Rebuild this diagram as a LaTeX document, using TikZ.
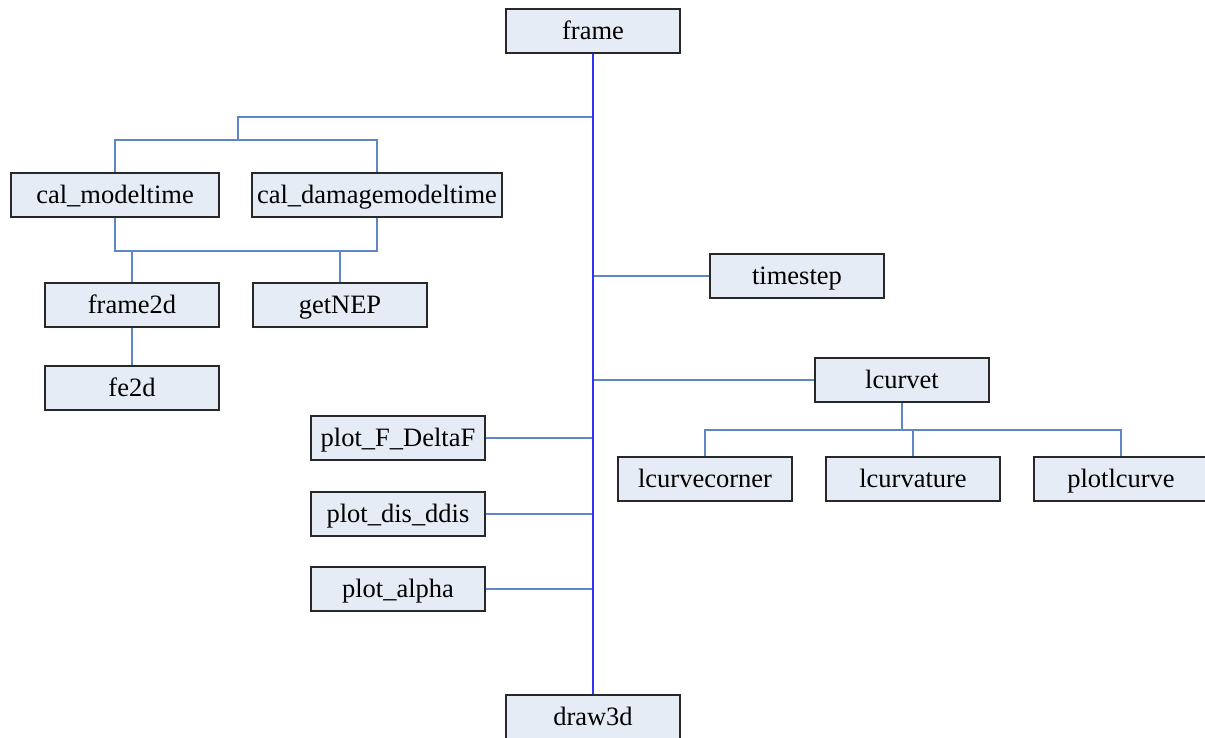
\documentclass[tikz,border=0pt]{standalone}
\usepackage{fontspec}
\setmainfont{Liberation Serif}
\definecolor{boxfill}{RGB}{230,236,246}
\definecolor{boxline}{RGB}{40,40,40}
\definecolor{trunkblue}{RGB}{50,50,245}
\definecolor{branchblue}{RGB}{95,135,200}
\begin{document}
\begin{tikzpicture}[x=1pt,y=-1pt,
  fn/.style={draw=boxline,line width=1.2pt,fill=boxfill,inner sep=0pt,
    minimum width=174pt,minimum height=44pt,
    text height=17pt,text depth=0pt,
    font=\fontsize{26.5}{30}\selectfont},
  br/.style={draw=branchblue,line width=1.2pt},
  trunk/.style={draw=trunkblue,line width=1.3pt}]
\useasboundingbox (0,0) rectangle (1205,737);

% nodes (centre positions)
\node[fn] (fr)  at (593,31)  {frame};
\node[fn,minimum width=208pt] (cm)  at (115,195) {cal\_modeltime};
\node[fn,minimum width=250pt] (cdm) at (377,195) {cal\_damagemodeltime};
\node[fn] (f2d) at (132,305) {frame2d};
\node[fn] (nep) at (340,305) {getNEP};
\node[fn] (fe)  at (132,388) {fe2d};
\node[fn] (ts)  at (797,276) {timestep};
\node[fn] (lc)  at (902,380) {lcurvet};
\node[fn] (lcc) at (705,479) {lcurvecorner};
\node[fn] (lcv) at (913,479) {lcurvature};
\node[fn] (plc) at (1121,479) {plotlcurve};
\node[fn] (pf)  at (398,438) {plot\_F\_DeltaF};
\node[fn] (pd)  at (398,514) {plot\_dis\_ddis};
\node[fn] (pa)  at (398,589) {plot\_alpha};
\node[fn] (d3)  at (593,717) {draw3d};

% junction points
\coordinate (tk1)  at (593,117);
\coordinate (bus1) at (238,140);
\coordinate (bus2) at (246,251);
\coordinate (bus3) at (902,430);

% branch connectors
\draw[br] (tk1) -| (bus1);
\draw[br] (cm.north) |- (bus1);
\draw[br] (cdm.north) |- (bus1);
\draw[br] (cm.south) |- (bus2);
\draw[br] (cdm.south) |- (bus2);
\draw[br] (f2d.north) -- (f2d.north |- bus2);
\draw[br] (nep.north) -- (nep.north |- bus2);
\draw[br] (f2d.south) -- (fe.north);
\draw[br] (ts.west) -- (ts.west -| fr.south);
\draw[br] (lc.west) -- (lc.west -| fr.south);
\draw[br] (lc.south) -- (bus3);
\draw[br] (lcc.north) |- (bus3);
\draw[br] (plc.north) |- (bus3);
\draw[br] (lcv.north) -- (lcv.north |- bus3);
\draw[br] (pf.east) -- (pf.east -| fr.south);
\draw[br] (pd.east) -- (pd.east -| fr.south);
\draw[br] (pa.east) -- (pa.east -| fr.south);

% main trunk
\draw[trunk] (fr.south) -- (d3.north);
\end{tikzpicture}
\end{document}
